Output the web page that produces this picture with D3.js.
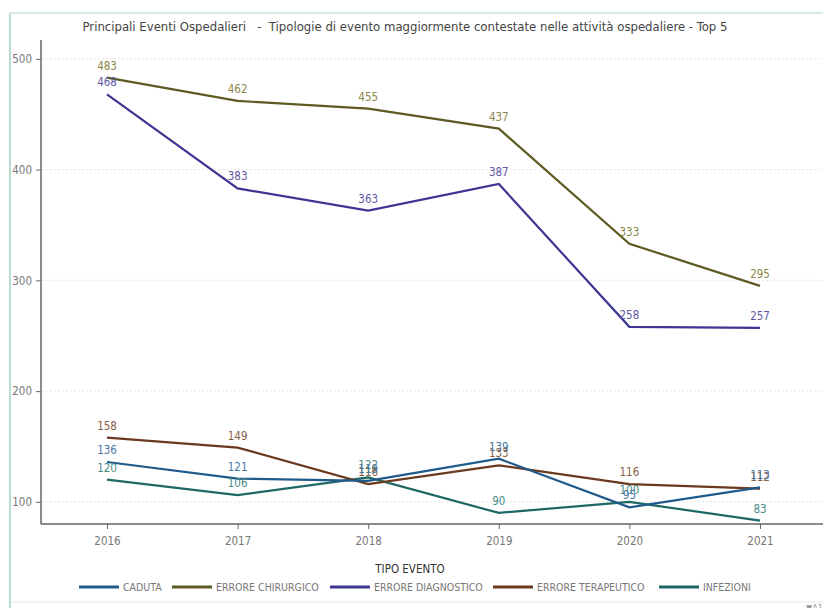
<!DOCTYPE html>
<html>
<head>
<meta charset="utf-8">
<script src="https://cdn.jsdelivr.net/npm/d3@7"></script>
<style>
body { margin:0; background:#fff; }
text { font-family: "Liberation Sans Narrow", "DejaVu Sans Condensed", "Open Sans", sans-serif; }
</style>
</head>
<body>
<script>
//data
var years = [2016, 2017, 2018, 2019, 2020, 2021];
var seriesNames = ["CADUTA", "ERRORE CHIRURGICO", "ERRORE DIAGNOSTICO", "ERRORE TERAPEUTICO", "INFEZIONI"];
var caduta = [136, 121, 119, 139, 95, 113];
var chirurgico = [483, 462, 455, 437, 333, 295];
var diagnostico = [468, 383, 363, 387, 258, 257];
var terapeutico = [158, 149, 116, 133, 116, 112];
var infezioni = [120, 106, 122, 90, 100, 83];
var yTicks = [100, 200, 300, 400, 500];

var lineColors = ["#1f5a8a", "#5e5a22", "#3d3592", "#6b3a1e", "#1d6764"];
var labelColors = ["#4a76a0", "#8b8748", "#5f58a3", "#8b5e40", "#4a8a86"];

var width = 823, height = 608;

var svg = d3.select("body").append("svg")
    .attr("width", width)
    .attr("height", height);

//outer frame lines
svg.append("line").attr("x1", 10).attr("x2", 10).attr("y1", 13).attr("y2", height)
    .attr("stroke", "#b9ddd1").attr("stroke-width", 2);
svg.append("line").attr("x1", 10).attr("x2", width).attr("y1", 13).attr("y2", 13)
    .attr("stroke", "#d5e8e1").attr("stroke-width", 2);
svg.append("line").attr("x1", 11).attr("x2", width).attr("y1", 602).attr("y2", 602)
    .attr("stroke", "#e6e6e6").attr("stroke-width", 1);

//title
svg.append("text")
    .attr("x", 405).attr("y", 31)
    .attr("text-anchor", "middle")
    .attr("font-size", 13)
    .attr("fill", "#444")
    .attr("xml:space", "preserve")
    .text("Principali Eventi Ospedalieri   -  Tipologie di evento maggiormente contestate nelle attività ospedaliere - Top 5");

//scales
var x = d3.scalePoint().domain(years).range([107, 760]);
var y = d3.scaleLinear().domain([80, 517]).range([524, 40]);

//gridlines
svg.selectAll(".grid").data(yTicks).enter().append("line")
    .attr("x1", 42).attr("x2", width)
    .attr("y1", function(d){ return y(d); })
    .attr("y2", function(d){ return y(d); })
    .attr("stroke", "#e6e6e6")
    .attr("stroke-dasharray", "2,2");

//y axis
var yAxis = svg.append("g")
    .attr("transform", "translate(41,0)")
    .call(d3.axisLeft(y).tickValues(yTicks).tickSize(5).tickPadding(4));
yAxis.select(".domain").remove();
svg.append("line").attr("x1", 41).attr("x2", 41).attr("y1", 40).attr("y2", 524)
    .attr("stroke", "#666").attr("stroke-width", 1.5);

//x axis
var xAxis = svg.append("g")
    .attr("transform", "translate(0,524)")
    .call(d3.axisBottom(x).tickSize(5).tickPadding(8).tickFormat(d3.format("d")));
xAxis.select(".domain").remove();
svg.append("line").attr("x1", 41).attr("x2", width).attr("y1", 524).attr("y2", 524)
    .attr("stroke", "#666").attr("stroke-width", 1.5);

svg.selectAll(".tick line").attr("stroke", "#666");
svg.selectAll(".tick text")
    .attr("fill", "#777")
    .attr("font-size", 11.5)
    .style("font-family", "'Liberation Sans Narrow', 'DejaVu Sans Condensed', sans-serif");

//lines
var allSeries = [caduta, chirurgico, diagnostico, terapeutico, infezioni];
var line = d3.line()
    .x(function(d, i){ return x(years[i]); })
    .y(function(d){ return y(d); });

//draw order: bottom ones first
var drawOrder = [4, 3, 0, 2, 1];
drawOrder.forEach(function(s){
    svg.append("path")
        .datum(allSeries[s])
        .attr("d", line)
        .attr("fill", "none")
        .attr("stroke", lineColors[s])
        .attr("stroke-width", 2.2);
});

//value labels
drawOrder.forEach(function(s){
    svg.selectAll(".lbl" + s)
        .data(allSeries[s])
        .enter().append("text")
        .attr("x", function(d, i){ return x(years[i]); })
        .attr("y", function(d){ return y(d) - 8; })
        .attr("text-anchor", "middle")
        .attr("font-size", 11.5)
        .attr("fill", labelColors[s])
        .text(function(d){ return d; });
});

//legend
svg.append("text")
    .attr("x", 410).attr("y", 573)
    .attr("text-anchor", "middle")
    .attr("font-size", 11.5)
    .attr("fill", "#333")
    .text("TIPO EVENTO");

var legendX = [79, 172, 330, 493, 659];
seriesNames.forEach(function(name, i){
    var lx = legendX[i];
    svg.append("line")
        .attr("x1", lx).attr("x2", lx + 40)
        .attr("y1", 587).attr("y2", 587)
        .attr("stroke", lineColors[i])
        .attr("stroke-width", 3);
    svg.append("text")
        .attr("x", lx + 44).attr("y", 591)
        .attr("font-size", 10.5)
        .attr("fill", "#777")
        .text(name);
});

svg.append("text")
    .attr("x", 806).attr("y", 611)
    .attr("font-size", 9)
    .attr("fill", "#999")
    .text("▼A1");
</script>
</body>
</html>
